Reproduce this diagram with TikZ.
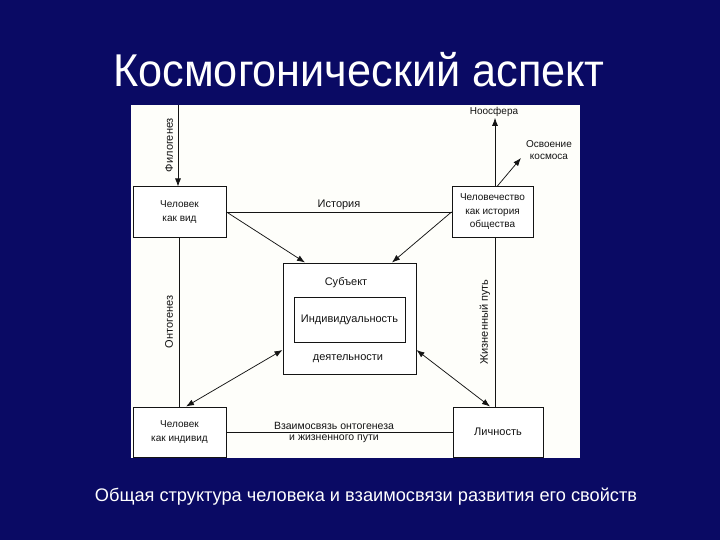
\documentclass[tikz,border=0pt]{standalone}
\usepackage{fontspec}
\setmainfont{Liberation Sans}
\usetikzlibrary{arrows.meta,calc}
\definecolor{navy}{RGB}{10,10,100}
\definecolor{ink}{RGB}{20,20,20}
\definecolor{paper}{RGB}{254,254,250}
\tikzset{
  boxnode/.style={draw=ink,line width=1pt,fill=white,text=ink,align=center,inner sep=0pt,font=\fontsize{10}{13.5}\selectfont},
  lbl/.style={text=ink,inner sep=1pt,align=center,font=\fontsize{11}{12}\selectfont},
  link/.style={draw=ink,line width=0.75pt},
  tip/.style={-{Latex[length=8pt,width=6pt]}},
  dtip/.style={{Latex[length=8pt,width=6pt]}-{Latex[length=8pt,width=6pt]}}
}
\begin{document}
\begin{tikzpicture}[x=1pt,y=-1pt]
\fill[navy] (0,0) rectangle (720,540);
\useasboundingbox (0,0) rectangle (720,540);
\node[text=white,font=\fontsize{46}{50}\selectfont] (title) at (359,70) {\scalebox{0.94}[1]{Космогонический аспект}};
\fill[paper] (131,105) rectangle (580,458);
% boxes
\node[boxnode,minimum width=93pt,minimum height=50pt] (lt) at (179.5,212) {Человек\\как вид};
\node[boxnode,minimum width=81pt,minimum height=50pt] (rt) at (492.5,212) {Человечество\\как история\\общества};
\node[boxnode,minimum width=133pt,minimum height=111pt] (cb) at (349.5,318.5) {};
\node[boxnode,minimum width=111pt,minimum height=45pt,font=\fontsize{11}{13}\selectfont] (ind) at (349.5,319.5) {Индивидуальность};
\node[lbl,font=\fontsize{11}{12}\selectfont] (subj) at (346,283) {Субъект};
\node[lbl,font=\fontsize{11}{12}\selectfont] (deyat) at (348,359) {деятельности};
\node[boxnode,minimum width=93pt,minimum height=50pt] (lb) at (179.5,432) {Человек\\как индивид};
\node[boxnode,minimum width=90pt,minimum height=50pt,font=\fontsize{11}{13}\selectfont] (rb) at (498,432) {Личность};
% coordinates
\coordinate (phx) at (178,105);
\coordinate (jx) at (495,0);
\coordinate (ontx) at (179,0);
% phylogenesis
\draw[link,tip] (phx) -- (phx |- lt.north);
\node[lbl,rotate=90] (phyl) at (169,145) {Филогенез};
% ontogenesis
\draw[link] (lt.south -| ontx) -- (lb.north -| ontx);
\node[lbl,rotate=90] (ont) at (169,322) {Онтогенез};
% life path
\draw[link] (rt.south -| jx) -- (rb.north -| jx);
\node[lbl,rotate=90] (life) at (485,322) {Жизненный путь};
% noosphere
\node[lbl,font=\fontsize{10}{11}\selectfont] (noo) at (494,112) {Ноосфера};
\draw[link,tip] (rt.north -| jx) -- (noo.south -| jx);
\node[lbl,font=\fontsize{10}{12}\selectfont] (kos) at (549,150) {Освоение\\космоса};
\coordinate (kosend) at (521,158);
\draw[link,tip] ($(rt.north -| jx)+(2,0)$) -- (kosend);
% history
\draw[link] (lt.east) -- node[lbl,above=1pt] (hist) {История} (rt.west);
% diagonals to centre
\draw[link,tip] (lt.east) -- (cb.north -| 305,0);
\draw[link,tip] (rt.west) -- (cb.north -| 392,0);
\draw[link,dtip] (lb.north -| 186,0) -- (cb.west |- 0,350);
\draw[link,dtip] (cb.east |- 0,350) -- (rb.north -| 490,0);
% bottom link
\draw[link] (lb.east) -- (rb.west);
\node[lbl,above=1.5pt,font=\fontsize{10.5}{12}\selectfont] (vz1) at (334,432) {Взаимосвязь онтогенеза};
\node[lbl,below=1.5pt,font=\fontsize{10.5}{12}\selectfont] (vz2) at (334,432) {и жизненного пути};
% caption
\node[text=white,font=\fontsize{18.2}{22}\selectfont] (cap) at (366,497) {Общая структура человека и взаимосвязи развития его свойств};
\end{tikzpicture}
\end{document}
